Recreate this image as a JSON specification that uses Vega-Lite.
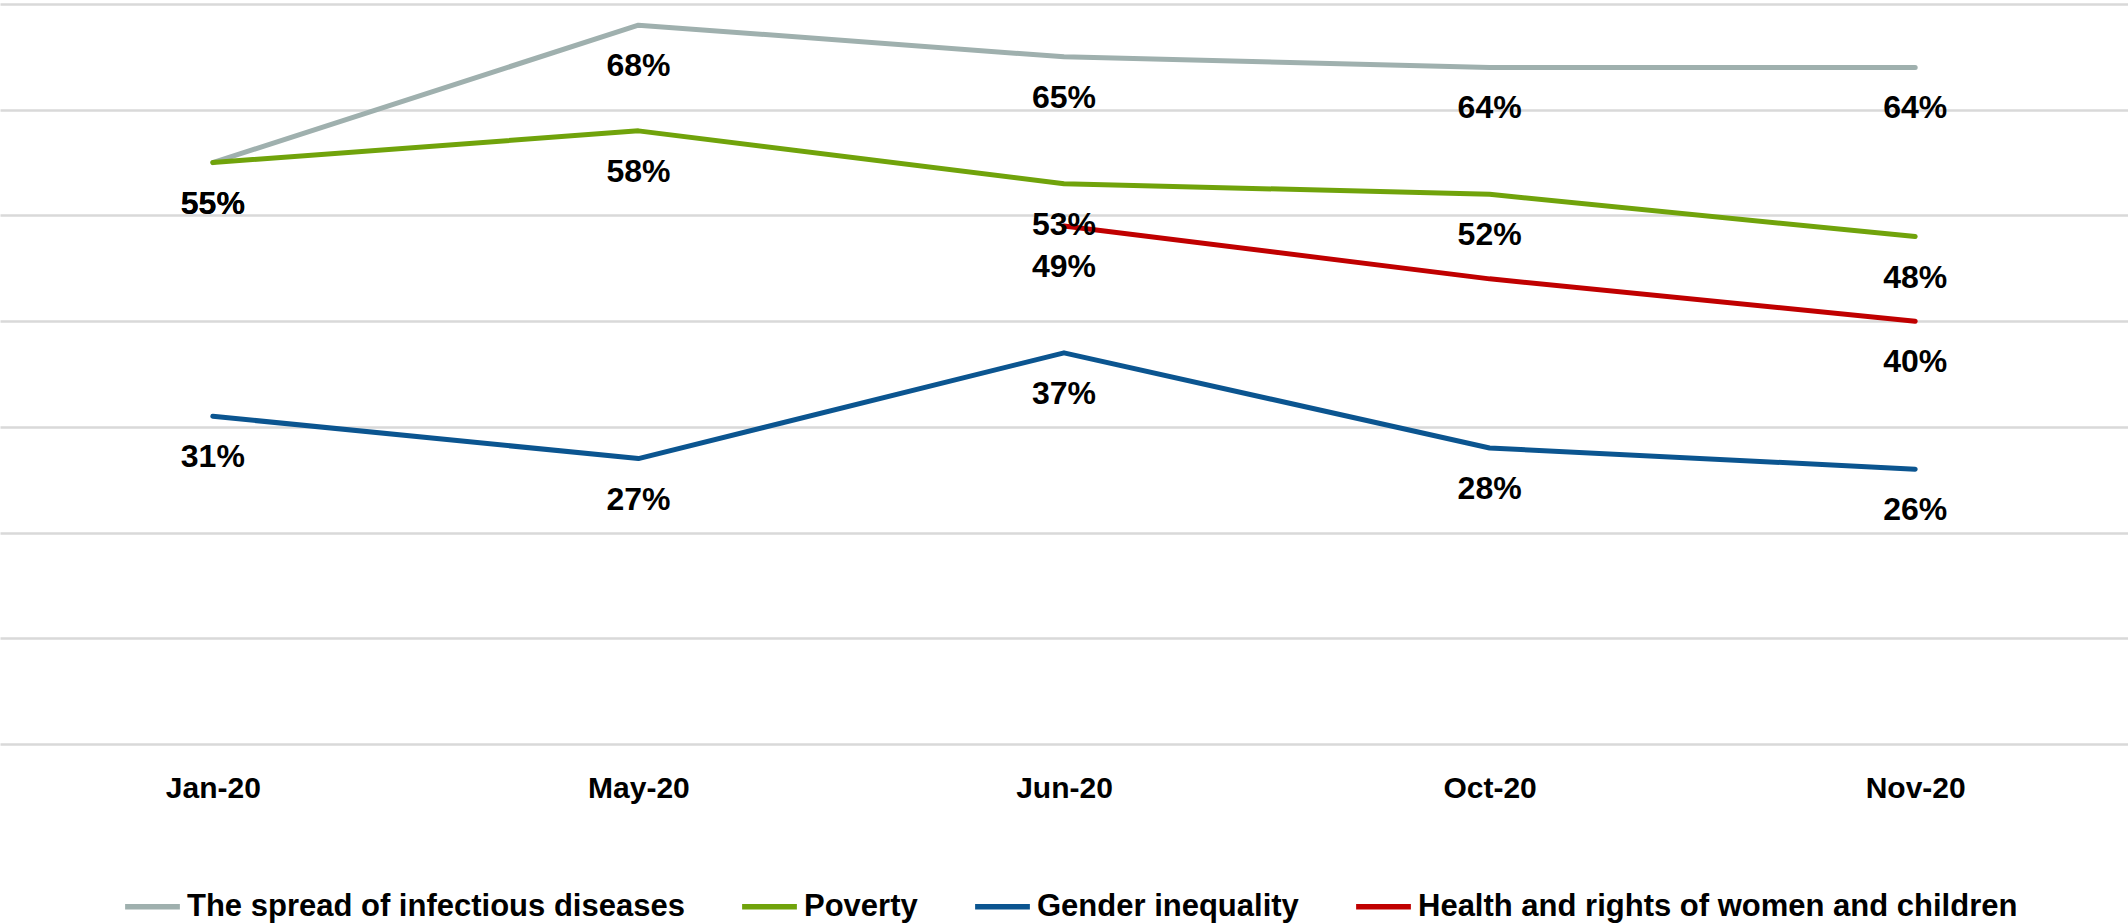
{
  "$schema": "https://vega.github.io/schema/vega-lite/v6.json",
  "width": 2128,
  "height": 740,
  "autosize": {"type": "none"},
  "padding": {"left": 0, "top": 4, "right": 0, "bottom": 180},
  "background": "white",
  "config": {
    "view": {"stroke": null},
    "font": "Liberation Sans"
  },
  "data": {
    "values": [
      {"month": "Jan-20", "series": "The spread of infectious diseases", "value": 0.55},
      {"month": "May-20", "series": "The spread of infectious diseases", "value": 0.68},
      {"month": "Jun-20", "series": "The spread of infectious diseases", "value": 0.65},
      {"month": "Oct-20", "series": "The spread of infectious diseases", "value": 0.64},
      {"month": "Nov-20", "series": "The spread of infectious diseases", "value": 0.64},
      {"month": "Jan-20", "series": "Poverty", "value": 0.55},
      {"month": "May-20", "series": "Poverty", "value": 0.58},
      {"month": "Jun-20", "series": "Poverty", "value": 0.53},
      {"month": "Oct-20", "series": "Poverty", "value": 0.52},
      {"month": "Nov-20", "series": "Poverty", "value": 0.48},
      {"month": "Jan-20", "series": "Gender inequality", "value": 0.31},
      {"month": "May-20", "series": "Gender inequality", "value": 0.27},
      {"month": "Jun-20", "series": "Gender inequality", "value": 0.37},
      {"month": "Oct-20", "series": "Gender inequality", "value": 0.28},
      {"month": "Nov-20", "series": "Gender inequality", "value": 0.26},
      {"month": "Jun-20", "series": "Health and rights of women and children", "value": 0.49},
      {"month": "Oct-20", "series": "Health and rights of women and children", "value": 0.44},
      {"month": "Nov-20", "series": "Health and rights of women and children", "value": 0.40}
    ]
  },
  "encoding": {
    "x": {
      "field": "month", "type": "ordinal",
      "sort": ["Jan-20", "May-20", "Jun-20", "Oct-20", "Nov-20"],
      "scale": {"type": "point", "padding": 0.5},
      "axis": {
        "title": null, "domain": false, "ticks": false, "grid": false,
        "labelAngle": 0, "labelFontSize": 30, "labelFontWeight": "bold",
        "labelColor": "#000000", "labelPadding": 29, "labelFont": "Liberation Sans"
      }
    },
    "y": {
      "field": "value", "type": "quantitative",
      "scale": {"domain": [0, 0.7], "nice": false, "zero": true},
      "axis": {
        "title": null, "labels": false, "domain": false, "ticks": false,
        "grid": true, "gridColor": "#d9d9d9", "gridWidth": 2.5,
        "values": [0, 0.1, 0.2, 0.3, 0.4, 0.5, 0.6, 0.7]
      }
    }
  },
  "layer": [
    {
      "mark": {"type": "line", "strokeWidth": 5, "strokeCap": "round", "strokeJoin": "round"},
      "encoding": {
        "color": {
          "field": "series", "type": "nominal",
          "scale": {
            "domain": ["The spread of infectious diseases", "Poverty", "Gender inequality", "Health and rights of women and children"],
            "range": ["#9fb0ae", "#70a30b", "#0b5590", "#c00000"]
          },
          "legend": {
            "title": null,
            "orient": "none",
            "direction": "horizontal",
            "legendX": 122,
            "legendY": 872,
            "symbolType": "stroke",
            "symbolSize": 3000,
            "symbolStrokeWidth": 5.5,
            "labelFontSize": 31,
            "labelFontWeight": "bold",
            "labelColor": "#000000",
            "labelFont": "Liberation Sans",
            "labelOffset": 4,
            "columnPadding": 46,
            "labelLimit": 1000
          }
        }
      }
    },
    {
      "transform": [
        {"filter": "!(datum.series === 'Health and rights of women and children' && datum.month === 'Oct-20')"}
      ],
      "mark": {"type": "text", "dy": 41, "fontSize": 32, "fontWeight": "bold", "color": "#000000", "baseline": "middle", "align": "center", "font": "Liberation Sans"},
      "encoding": {
        "text": {"field": "value", "type": "quantitative", "format": ".0%"}
      }
    }
  ]
}
